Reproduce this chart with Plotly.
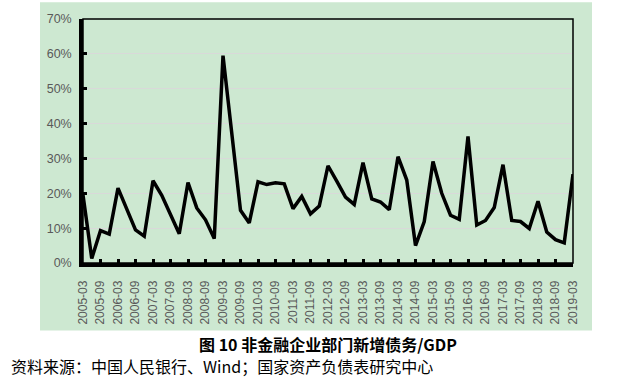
import plotly.graph_objects as go

quarters = [
    "2005-03","2005-06","2005-09","2005-12","2006-03","2006-06","2006-09","2006-12",
    "2007-03","2007-06","2007-09","2007-12","2008-03","2008-06","2008-09","2008-12",
    "2009-03","2009-06","2009-09","2009-12","2010-03","2010-06","2010-09","2010-12",
    "2011-03","2011-06","2011-09","2011-12","2012-03","2012-06","2012-09","2012-12",
    "2013-03","2013-06","2013-09","2013-12","2014-03","2014-06","2014-09","2014-12",
    "2015-03","2015-06","2015-09","2015-12","2016-03","2016-06","2016-09","2016-12",
    "2017-03","2017-06","2017-09","2017-12","2018-03","2018-06","2018-09","2018-12",
    "2019-03",
]
debt_to_gdp = [
    19.5, 1.3, 9.3, 8.3, 21.5, 15.5, 9.5, 7.7,
    23.6, 19.4, 14.0, 8.4, 23.1, 15.8, 12.4, 7.0,
    59.5, 36.5, 15.1, 11.5, 23.3, 22.5, 23.0, 22.7,
    15.6, 19.1, 14.1, 16.3, 27.9, 23.5, 18.9, 16.8,
    28.8, 18.4, 17.5, 15.3, 30.5, 23.8, 5.0, 11.9,
    29.1, 20.0, 13.7, 12.5, 36.3, 10.9, 12.2, 15.9,
    28.2, 12.2, 11.9, 9.9, 17.7, 8.9, 6.7, 5.8,
    25.5,
]
tick_labels = quarters[::2]
y_ticks = [0, 10, 20, 30, 40, 50, 60, 70]
y_tick_text = ["0%", "10%", "20%", "30%", "40%", "50%", "60%", "70%"]

caption = "图 10 非金融企业部门新增债务/GDP"
source = "资料来源：中国人民银行、Wind；国家资产负债表研究中心"

GREEN = "#cde8d1"

fig = go.Figure()
fig.add_trace(go.Scatter(
    x=quarters, y=debt_to_gdp, mode="lines",
    line=dict(color="black", width=3.5),
    hoverinfo="x+y",
))

W, H = 631, 384
L, R, T, B = 83, 58, 17, 121
pw, ph = W - L - R, H - T - B

def px_to_paper_x(x):
    return (x - L) / pw

def px_to_paper_y(y):
    return (H - B - y) / ph

fig.add_shape(type="rect", xref="paper", yref="paper",
              x0=px_to_paper_x(40), x1=px_to_paper_x(592),
              y0=px_to_paper_y(331), y1=px_to_paper_y(0),
              fillcolor=GREEN, line=dict(width=0), layer="below")
fig.add_shape(type="rect", xref="paper", yref="paper",
              x0=0, x1=1, y0=0, y1=1,
              line=dict(color="black", width=1.5), layer="above")

fig.add_annotation(text=caption, xref="paper", yref="paper",
                   x=px_to_paper_x(328), y=px_to_paper_y(345),
                   xanchor="center", yanchor="middle", showarrow=False,
                   font=dict(family="Noto Sans CJK SC", size=16, color="black",
                             weight="bold"))
fig.add_annotation(text=source, xref="paper", yref="paper",
                   x=px_to_paper_x(9), y=px_to_paper_y(367),
                   xanchor="left", yanchor="middle", showarrow=False,
                   font=dict(family="Noto Sans CJK SC", size=16, color="black"))

fig.update_layout(
    width=W, height=H,
    margin=dict(l=L, r=R, t=T, b=B, pad=0),
    paper_bgcolor="white",
    plot_bgcolor=GREEN,
    showlegend=False,
    xaxis=dict(
        type="category",
        range=[0, len(quarters) - 1],
        tickmode="array", tickvals=tick_labels, ticktext=tick_labels,
        tickangle=-90,
        ticks="inside", ticklen=4, tickwidth=3, tickcolor="black",
        showline=True, linecolor="black", linewidth=3.5,
        showgrid=False, zeroline=False,
        tickfont=dict(family="Liberation Sans", size=12, color="#595959"),
        ticklabelstandoff=9,
    ),
    yaxis=dict(
        range=[0, 70],
        tickmode="array", tickvals=y_ticks, ticktext=y_tick_text,
        ticks="inside", ticklen=4, tickwidth=3, tickcolor="black",
        showline=True, linecolor="black", linewidth=3.5,
        showgrid=True, gridcolor="#d9d9d9", gridwidth=1,
        zeroline=False,
        tickfont=dict(family="Liberation Sans", size=12.5, color="#595959"),
        ticklabelstandoff=5,
    ),
)

fig.write_html(
    "out.html",
    config={"displayModeBar": False},
    post_script="document.body.style.margin='0';document.body.style.padding='0';",
)
